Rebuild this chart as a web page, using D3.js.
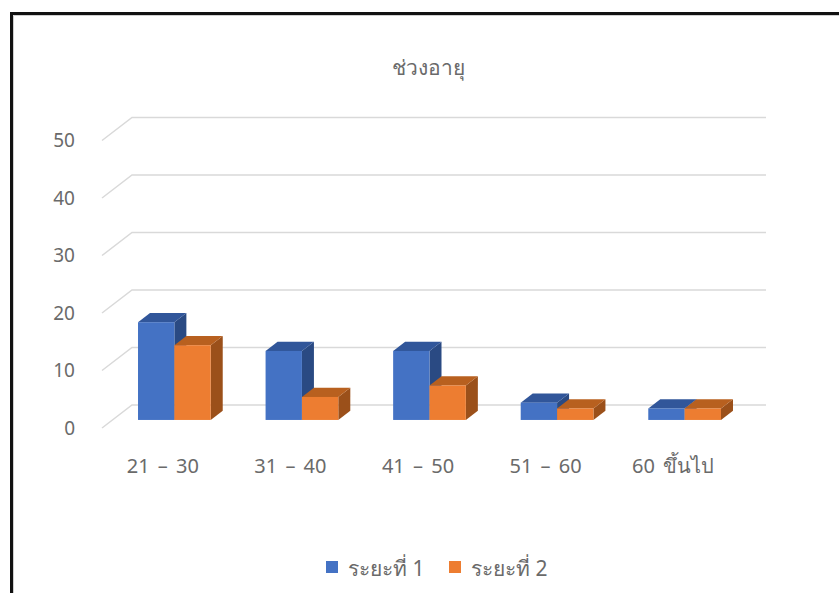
<!DOCTYPE html>
<html>
<head>
<meta charset="utf-8">
<script src="https://cdn.jsdelivr.net/npm/d3@7"></script>
<style>
  body { margin: 0; background: #fff; }
  svg text { font-family: "Noto Sans", "DejaVu Sans", sans-serif; fill: #6a6a6a; }
</style>
</head>
<body>
<svg id="chart" width="839" height="593"></svg>
<script>
const categories = ['21 – 30', '31 – 40', '41 – 50', '51 – 60', '60 ขึ้นไป'];
const seriesNames = ['ระยะที่ 1', 'ระยะที่ 2'];
const phase1 = [17, 12, 12, 3, 2];
const phase2 = [13, 4, 6, 2, 2];
const yTicks = [0, 10, 20, 30, 40, 50];
const title = 'ช่วงอายุ';

// front, top, side shades per series
const shades = [
  { front: '#4472c4', top: '#31569a', side: '#2a4a83' },
  { front: '#ed7d31', top: '#b8601f', side: '#9b501a' },
];

const svg = d3.select('#chart');

// frame
svg.append('path')
  .attr('d', 'M11.5,600 V13.5 H850')
  .attr('fill', 'none').attr('stroke', '#111').attr('stroke-width', 3);
svg.append('path')
  .attr('d', 'M13.5,600 V15.5 H850')
  .attr('fill', 'none').attr('stroke', '#cfcfcf').attr('stroke-width', 1);

svg.append('text')
  .attr('x', 428).attr('y', 75)
  .attr('text-anchor', 'middle')
  .attr('font-size', 21)
  .text(title);

// 3D projection: z from 0 (front) to 1 (back wall)
const depthX = 30;
const depthY = 23;
const x0 = d3.scaleBand().domain(categories).range([102, 736])
  .paddingInner(0.43).paddingOuter(0.2);
const x1 = d3.scaleBand().domain([0, 1]).range([0, x0.bandwidth()]);
const y = d3.scaleLinear().domain([0, 50]).range([428, 140.5]);
const px = (x, z) => x + z * depthX;
const py = (v, z) => y(v) - z * depthY;

// gridlines on the back wall with diagonal on the left side wall
const grid = svg.append('g');
yTicks.forEach((t) => {
  grid.append('path')
    .attr('d', `M${px(102, 0)},${py(t, 0)} L${px(102, 1)},${py(t, 1)} L${px(736, 1)},${py(t, 1)}`)
    .attr('fill', 'none').attr('stroke', '#d9d9d9').attr('stroke-width', 1.5);
});

// y labels
svg.append('g').selectAll('text')
  .data(yTicks)
  .join('text')
  .attr('x', 75).attr('y', (d) => py(d, 0))
  .attr('dy', '0.36em')
  .attr('text-anchor', 'end')
  .attr('font-size', 19)
  .text((d) => d);

// bars
const zf = 0.35;
const zb = 0.75;
const bars = [];
categories.forEach((c, i) => {
  [phase1[i], phase2[i]].forEach((v, s) => {
    bars.push({ c, s, v });
  });
});

const barG = svg.append('g');
bars.forEach((b) => {
  const xl = x0(b.c) + x1(b.s);
  const xr = xl + x1.bandwidth();
  const sh = shades[b.s];
  const g = barG.append('g');
  // side
  g.append('path')
    .attr('d', `M${px(xr, zf)},${py(0, zf)} L${px(xr, zb)},${py(0, zb)} L${px(xr, zb)},${py(b.v, zb)} L${px(xr, zf)},${py(b.v, zf)}Z`)
    .attr('fill', sh.side);
  // top
  g.append('path')
    .attr('d', `M${px(xl, zf)},${py(b.v, zf)} L${px(xr, zf)},${py(b.v, zf)} L${px(xr, zb)},${py(b.v, zb)} L${px(xl, zb)},${py(b.v, zb)}Z`)
    .attr('fill', sh.top);
  // front
  g.append('rect')
    .attr('x', px(xl, zf)).attr('y', py(b.v, zf))
    .attr('width', xr - xl).attr('height', py(0, zf) - py(b.v, zf))
    .attr('fill', sh.front);
});

// category labels
svg.append('g').selectAll('text')
  .data(categories)
  .join('text')
  .attr('x', (d) => x0(d) + x0.bandwidth() / 2 - 1)
  .attr('y', 473)
  .attr('text-anchor', 'middle')
  .attr('font-size', 20)
  .attr('word-spacing', 3)
  .text((d) => d);

// legend
const legend = svg.append('g');
const legendX = [326, 449];
seriesNames.forEach((name, i) => {
  legend.append('rect')
    .attr('x', legendX[i]).attr('y', 561)
    .attr('width', 12).attr('height', 12)
    .attr('fill', shades[i].front);
  legend.append('text')
    .attr('x', legendX[i] + 22).attr('y', 576)
    .attr('font-size', 21)
    .text(name);
});
</script>
</body>
</html>
